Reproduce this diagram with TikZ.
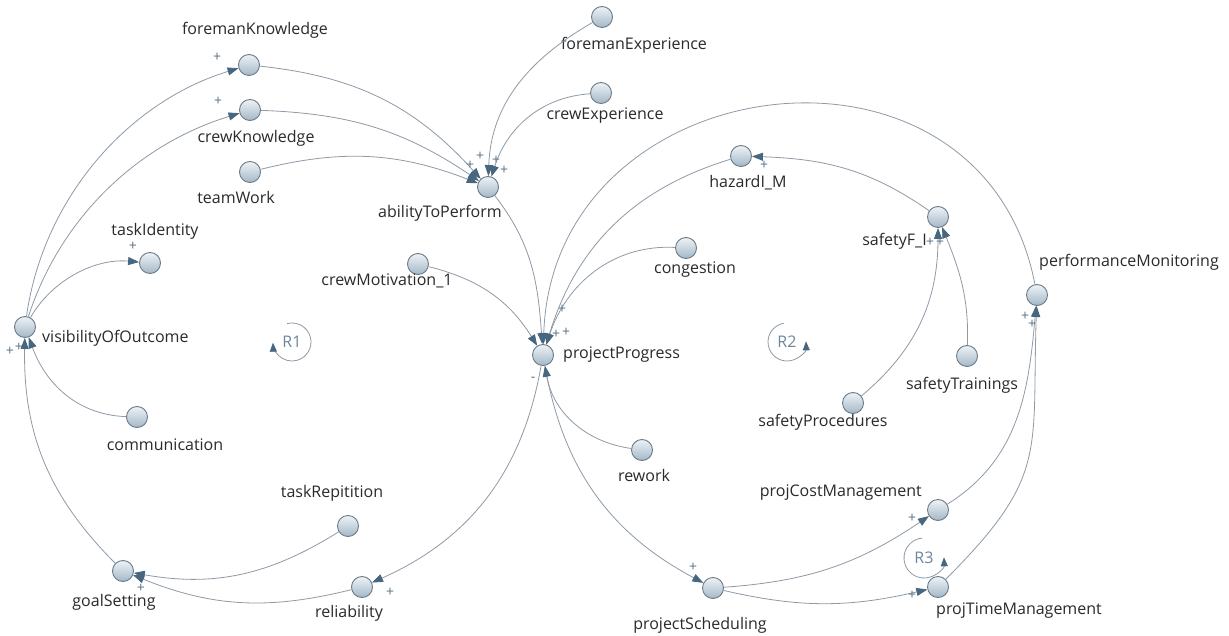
\documentclass[tikz,border=0pt]{standalone}
\usepackage{fontspec}
\setmainfont{Open Sans}
\usetikzlibrary{arrows.meta}
\definecolor{linkgray}{HTML}{8E9AA6}
\definecolor{tipblue}{HTML}{46677F}
\definecolor{rimgray}{HTML}{6C7A86}
\definecolor{signblue}{HTML}{5B7386}
\definecolor{loopblue}{HTML}{71869A}
\definecolor{labelgray}{HTML}{2A2A2A}
\definecolor{nodetop}{HTML}{EEF3F7}
\definecolor{nodebot}{HTML}{A3B7C7}
\begin{document}
\begin{tikzpicture}[x=1pt,y=1pt,
  var/.style={circle, minimum size=21pt, inner sep=0pt, draw=rimgray, line width=0.9pt,
              top color=nodetop, bottom color=nodebot},
  lbl/.style={font=\fontsize{16}{19}\selectfont, text=labelgray, inner sep=0pt,
              text height=12pt, text depth=4pt},
  link/.style={draw=linkgray, line width=0.8pt, -{Triangle[length=11pt,width=8pt,color=tipblue]}},
  sign/.style={font=\fontsize{14}{14}\selectfont, text=signblue, inner sep=0pt},
  loopname/.style={font=\fontsize{16}{18}\selectfont, text=loopblue, inner sep=0pt},
  looparc/.style={draw=linkgray, line width=0.8pt, -{Triangle[length=9pt,width=7pt,color=tipblue]}}]

\useasboundingbox (0,0) rectangle (1229,-636);
\fill[white] (0,0) rectangle (1229,-636);

% variables
\node[var] (fk)   at (249,-65)  {};
\node[var] (ck)   at (250,-110) {};
\node[var] (tw)   at (250,-172) {};
\node[var] (atp)  at (488,-187) {};
\node[var] (fe)   at (602,-17)  {};
\node[var] (ce)   at (601,-93)  {};
\node[var] (haz)  at (741,-156) {};
\node[var] (sfi)  at (938,-217) {};
\node[var] (cong) at (686,-248) {};
\node[var] (cm)   at (418,-264) {};
\node[var] (ti)   at (150,-263) {};
\node[var] (vis)  at (25,-327)  {};
\node[var] (pp)   at (543,-355) {};
\node[var] (com)  at (137,-417) {};
\node[var] (rw)   at (642,-450) {};
\node[var] (st)   at (967,-356) {};
\node[var] (sp)   at (853,-403) {};
\node[var] (pm)   at (1037,-295) {};
\node[var] (tr)   at (348,-526) {};
\node[var] (gs)   at (123,-571) {};
\node[var] (rel)  at (362,-587) {};
\node[var] (ps)   at (713,-588) {};
\node[var] (pcm)  at (938,-510) {};
\node[var] (ptm)  at (938,-587) {};

% variable names
\node[lbl] (fkL)   at (255,-31)  {foremanKnowledge};
\node[lbl] (ckL)   at (256,-139) {crewKnowledge};
\node[lbl] (twL)   at (236,-200) {teamWork};
\node[lbl] (atpL)  at (440,-214) {abilityToPerform};
\node[lbl] (feL)   at (634,-46)  {foremanExperience};
\node[lbl] (ceL)   at (605,-116) {crewExperience};
\node[lbl] (hazL)  at (748,-184) {hazardI\_M};
\node[lbl, anchor=east] (sfiL) at (927,-242) {safetyF\_I};
\node[lbl] (congL) at (695,-270) {congestion};
\node[lbl] (cmL)   at (387,-282) {crewMotivation\_1};
\node[lbl] (tiL)   at (155,-232) {taskIdentity};
\node[lbl, anchor=west] (visL) at (42,-338) {visibilityOfOutcome};
\node[lbl, anchor=west] (ppL)  at (563,-355) {projectProgress};
\node[lbl] (comL)  at (165,-446) {communication};
\node[lbl] (rwL)   at (644,-477) {rework};
\node[lbl] (stL)   at (962,-385) {safetyTrainings};
\node[lbl] (spL)   at (823,-422) {safetyProcedures};
\node[lbl] (pmL)   at (1129,-263) {performanceMonitoring};
\node[lbl] (trL)   at (332,-493) {taskRepitition};
\node[lbl] (gsL)   at (114,-602) {goalSetting};
\node[lbl] (relL)  at (349,-613) {reliability};
\node[lbl] (psL)   at (700,-625) {projectScheduling};
\node[lbl, anchor=east] (pcmL) at (922,-492) {projCostManagement};
\node[lbl] (ptmL)  at (1019,-610) {projTimeManagement};

% causal links
\draw[link] (vis) to[out=82,in=197,looseness=0.92] (fk);
\draw[link] (vis) to[out=72,in=197,looseness=0.92] (ck);
\draw[link] (vis) to[out=60,in=175,looseness=0.92] (ti);
\draw[link] (fk) to[out=-6,in=132] (atp);
\draw[link] (ck) to[out=-2,in=146] (atp);
\draw[link] (tw) to[out=14,in=159] (atp);
\draw[link] (fe) to[out=210,in=88] (atp);
\draw[link] (ce) to[out=184,in=72] (atp);
\draw[link] (atp) to[out=-52,in=94] (pp);
\draw[link] (cm) to[out=-14,in=122] (pp);
\draw[link] (cong) to[out=177,in=72] (pp);
\draw[link] (haz) to[out=197,in=73] (pp);
\draw[link] (pm) to[out=101,in=88,looseness=1.45] (pp);
\draw[link] (sfi) to[out=145,in=-2] (haz);
\draw[link] (pp) to[out=-80,in=152] (ps);
\draw[link] (pp) to[out=260,in=24] (rel);
\draw[link] (rw) to[out=172,in=-80] (pp);
\draw[link] (ps) to[out=4,in=214] (pcm);
\draw[link] (ps) to[out=-13,in=193] (ptm);
\draw[link] (pcm) to[out=32,in=265] (pm);
\draw[link] (ptm) to[out=45,in=268,looseness=1.3] (pm);
\draw[link] (sp) to[out=40,in=270] (sfi);
\draw[link] (st) to[out=88,in=-68] (sfi);
\draw[link] (tr) to[out=212,in=-10] (gs);
\draw[link] (rel) to[out=194,in=-22] (gs);
\draw[link] (gs) to[out=135,in=269] (vis);
\draw[link] (com) to[out=178,in=-70] (vis);

% polarities
\node[sign] at (217,-57) {+};
\node[sign] at (218,-101) {+};
\node[sign] at (133,-246) {+};
\node[sign] at (470,-165) {+};
\node[sign] at (480,-156) {+};
\node[sign] at (496,-160) {+};
\node[sign] at (504,-170) {+};
\node[sign] at (562,-309) {+};
\node[sign] at (556,-334) {+};
\node[sign] at (566,-332) {+};
\node[sign] at (533,-379) {-};
\node[sign] at (764,-165) {+};
\node[sign] at (930,-242) {+};
\node[sign] at (940,-242) {+};
\node[sign] at (1025,-316) {+};
\node[sign] at (1032,-324) {+};
\node[sign] at (912,-518) {+};
\node[sign] at (912,-595) {+};
\node[sign] at (693,-567) {+};
\node[sign] at (390,-592) {+};
\node[sign] at (141,-588) {+};
\node[sign] at (10,-351) {+};
\node[sign] at (19,-347) {+};

% loop markers
\node[loopname] (r1) at (292,-342) {R1};
\draw[looparc] ([shift={(105:19)}]r1.center) arc[start angle=105, end angle=-178, radius=19];
\node[loopname] (r2) at (787,-342) {R2};
\draw[looparc] ([shift={(100:19)}]r2.center) arc[start angle=100, end angle=362, radius=19];
\node[loopname] (r3) at (924,-558) {R3};
\draw[looparc] ([shift={(95:20)}]r3.center) arc[start angle=95, end angle=362, radius=20];
\end{tikzpicture}
\end{document}
